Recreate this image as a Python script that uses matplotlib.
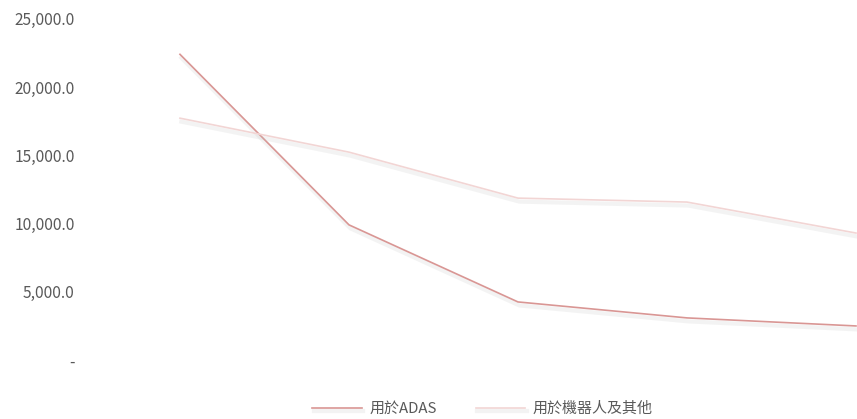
import numpy as np
import matplotlib.pyplot as plt
import matplotlib.patheffects as pe
from matplotlib.ticker import FuncFormatter

plt.rcParams['font.family'] = ['Noto Sans CJK TC', 'DejaVu Sans']
plt.rcParams['font.weight'] = 'light'

# data
periods = [0, 1, 2, 3, 4]
adas = [22400, 9900, 4250, 3080, 2490]
robots = [17720, 15230, 11860, 11570, 9300]
yticks = [0, 5000, 10000, 15000, 20000, 25000]

fig = plt.figure(figsize=(8.57, 4.19), dpi=100)
ax = fig.add_axes([0.1114, 0.141, 0.8886, 0.814])

shadow = [pe.SimpleLineShadow(offset=(1.0, -2.5), shadow_color='#bfbfbf', alpha=0.18, linewidth=3.0),
          pe.Normal()]

ax.plot(periods, adas, color='#d99694', lw=1.2, label='用於ADAS', path_effects=shadow)
ax.plot(periods, robots, color='#f2d5d4', lw=1.2, label='用於機器人及其他', path_effects=shadow)

ax.set_xlim(-0.5, 4.006)
ax.set_ylim(0, 25000)
ax.set_yticks(yticks)


def fmt(v, pos):
    if v == 0:
        return '-'
    return '{:,.1f}'.format(v)


ax.yaxis.set_major_formatter(FuncFormatter(fmt))
ax.set_xticks([])
ax.tick_params(axis='y', length=0, pad=15, labelsize=11.2, labelcolor='#595959')
for s in ax.spines.values():
    s.set_visible(False)

leg = fig.legend(loc='lower center', bbox_to_anchor=(0.563, -0.025), ncol=2, frameon=False,
                 fontsize=10.8, handlelength=3.3, columnspacing=2.6, handletextpad=0.5)
for t in leg.get_texts():
    t.set_color('#595959')

fig.savefig('out.png', dpi=100)
